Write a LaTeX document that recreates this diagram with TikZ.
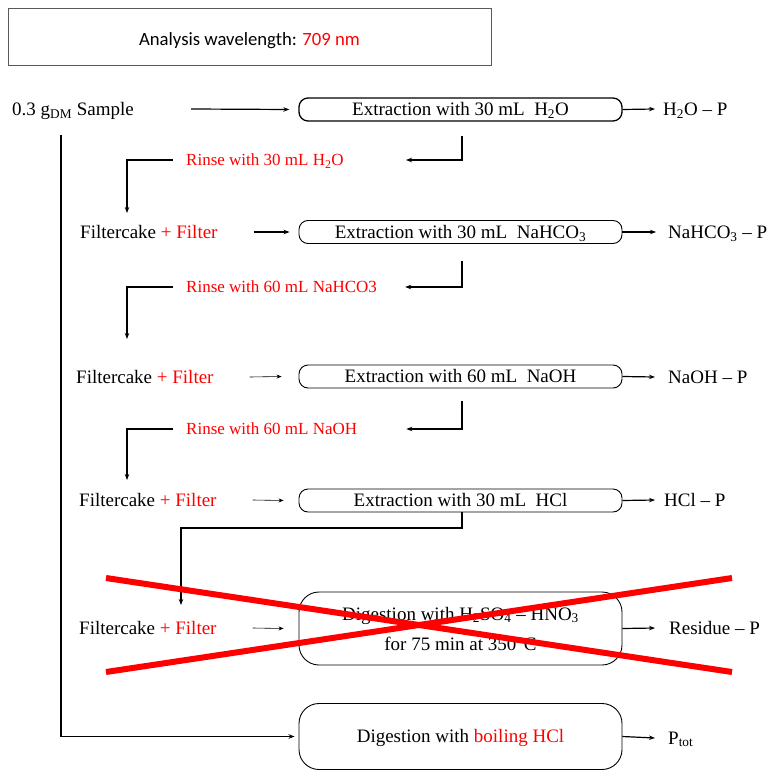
\documentclass[tikz,border=0pt]{standalone}
\usepackage{fontspec}
\setmainfont{Liberation Serif}
\newfontfamily\carlito{Carlito}
\usetikzlibrary{arrows.meta}
\definecolor{pred}{RGB}{255,0,0}
\begin{document}
\begin{tikzpicture}[x=1pt,y=-1pt,
 every node/.style={font=\fontsize{19}{22}\selectfont},
 txt/.style={inner sep=0pt, text height=12.6pt, text depth=0pt, anchor=west},
 rinse/.style={inner sep=0pt, text height=11.3pt, text depth=0pt, anchor=west, text=pred, font=\fontsize{17}{20}\selectfont},
 xbox/.style={draw, line width=0.9pt, rounded corners=9pt, minimum width=323pt, minimum height=23pt, inner sep=0pt, text height=12.6pt, text depth=0pt},
 dbox/.style={draw, line width=0.9pt, rounded corners=20pt, minimum width=323pt, inner sep=0pt, align=center},
 arr/.style={line width=1.2pt, -{Stealth[length=6pt,width=4.5pt]}},
 tarr/.style={line width=0.6pt, -{Stealth[length=5pt,width=4pt]}},
 redx/.style={line width=6pt, draw=pred},
]
\useasboundingbox (0,0) rectangle (768,770);

% header
\node[draw=black!65, line width=1pt, minimum width=483pt, minimum height=57pt, inner sep=0pt,
      text height=17pt, text depth=0pt, font=\carlito\fontsize{18.7}{22}\selectfont] (wl) at (249.5,37.5)
      {Analysis wavelength: \textcolor{pred}{709 nm}};

% row 1
\node[txt] (s) at (12,109) {0.3 g\textsubscript{DM} Sample};
\node[xbox, line width=1.3pt] (b1) at (460.5,109.5) {Extraction with 30 mL\ \ H\textsubscript{2}O};
\node[txt] (o1) at (663,109) {H\textsubscript{2}O -- P};
\draw[arr] ([xshift=57pt]s.east) -- ([xshift=-9pt]b1.west);
\draw[arr] (b1.east) -- ([xshift=-8pt]o1.west);

% rinse 1
\node[rinse] (r1) at (186,160) {Rinse with 30 mL H\textsubscript{2}O};
\coordinate (d1) at (127,213);
\draw[arr] ([xshift=1.5pt,yshift=-14pt]b1.south) |- ([xshift=62pt]r1.east);
\draw[arr] ([xshift=-13pt]r1.west) -| (d1);

% row 2
\node[txt] (f2) at (80,232) {Filtercake \textcolor{pred}{+ Filter}};
\node[xbox] (b2) at (460.5,232) {Extraction with 30 mL\ \ NaHCO\textsubscript{3}};
\node[txt] (o2) at (668,232) {NaHCO\textsubscript{3} -- P};
\draw[arr] ([xshift=36pt]f2.east) -- ([xshift=-9pt]b2.west);
\draw[arr] (b2.east) -- ([xshift=-12pt]o2.west);

% rinse 2
\node[rinse] (r2) at (186,287) {Rinse with 60 mL NaHCO3};
\coordinate (d2) at (127,339);
\draw[arr] ([xshift=1.5pt,yshift=-17pt]b2.south) |- ([xshift=28pt]r2.east);
\draw[arr] ([xshift=-13pt]r2.west) -| (d2);

% row 3
\node[txt] (f3) at (76,377) {Filtercake \textcolor{pred}{+ Filter}};
\node[xbox] (b3) at (460.5,376.5) {Extraction with 60 mL\ \ NaOH};
\node[txt] (o3) at (668,377) {NaOH -- P};
\draw[tarr] ([xshift=36pt]f3.east) -- ([xshift=-17pt]b3.west);
\draw[arr] (b3.east) -- ([xshift=-13pt]o3.west);

% rinse 3
\node[rinse] (r3) at (186,429) {Rinse with 60 mL NaOH};
\coordinate (d3) at (127,480);
\draw[arr] ([xshift=1.5pt,yshift=-13pt]b3.south) |- ([xshift=49pt]r3.east);
\draw[arr] ([xshift=-13pt]r3.west) -| (d3);

% row 4
\node[txt] (f4) at (79,500) {Filtercake \textcolor{pred}{+ Filter}};
\node[xbox] (b4) at (460.5,500.5) {Extraction with 30 mL\ \ HCl};
\node[txt] (o4) at (664,500) {HCl -- P};
\draw[tarr] ([xshift=36pt]f4.east) -- ([xshift=-15pt]b4.west);
\draw[arr] (b4.east) -- ([xshift=-9pt]o4.west);

% to row 5
\coordinate (c4) at (181,528);
\coordinate (d4) at (181,605);
\draw[arr] ([xshift=1.5pt]b4.south) |- (c4) -- (d4);

% row 5
\node[txt] (f5) at (79,628) {Filtercake \textcolor{pred}{+ Filter}};
\node[dbox, minimum height=73pt, font=\fontsize{19}{30}\selectfont] (b5) at (460.5,628.5)
  {Digestion with H\textsubscript{2}SO\textsubscript{4} -- HNO\textsubscript{3}\\ for 75 min at 350°C};
\node[txt] (o5) at (669,628) {Residue -- P};
\draw[tarr] ([xshift=36pt]f5.east) -- ([xshift=-15pt]b5.west);
\draw[arr] (b5.east) -- ([xshift=-14pt]o5.west);

% red cross
\coordinate (x1) at (106,578);
\coordinate (x2) at (732,672);
\coordinate (x3) at (106,672);
\coordinate (x4) at (732,578);
\draw[redx] (x1) -- (x2);
\draw[redx] (x3) -- (x4);

% row 6
\node[dbox, minimum height=66pt, text height=12.6pt, text depth=0pt] (b6) at (460.5,736.5)
  {Digestion with \textcolor{pred}{boiling HCl}};
\node[txt] (o6) at (668,738) {P\textsubscript{tot}};
\draw[arr] (b6.east) -- ([xshift=-13pt]o6.west);

% total branch
\coordinate (L0) at (61,135);
\draw[arr] (L0) |- ([xshift=-4pt]b6.west);
\end{tikzpicture}
\end{document}
